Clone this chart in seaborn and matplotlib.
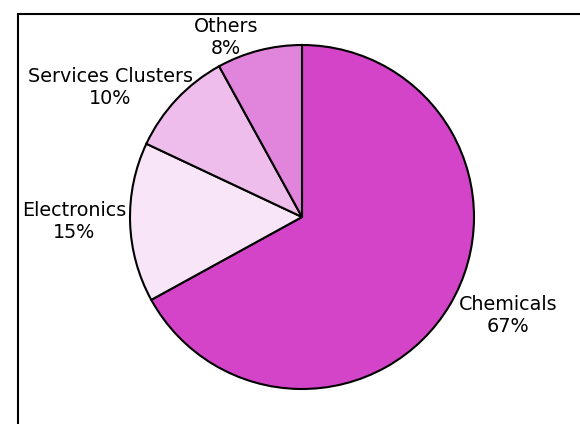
import matplotlib
matplotlib.use("Agg")
import matplotlib.pyplot as plt
import seaborn as sns
from matplotlib.patches import Rectangle

categories = ["Chemicals", "Electronics", "Services Clusters", "Others"]
shares = [67, 15, 10, 8]
colors = ["#D444C8", "#F8E6F8", "#EEBDEC", "#E084DC"]
label_pos = [(1.198, -0.570), (-1.326, -0.029), (-1.116, 0.750), (-0.442, 1.041)]

sns.set_theme(style="white")
plt.rcParams['font.family'] = ['DejaVu Sans']

fig = plt.figure(figsize=(5.8, 4.24), dpi=100)
ax = fig.add_axes([0, 0, 1, 1])
ax.pie(shares, colors=colors, startangle=90, counterclock=False, radius=1.0,
       wedgeprops=dict(edgecolor="black", linewidth=1.5))
for cat, val, (x, y) in zip(categories, shares, label_pos):
    ax.text(x, y, f"{cat}\n{val}%", ha="center", va="center", fontsize=13.8,
            color="black", linespacing=1.2)
ax.set_xlim(-302 / 172, 278 / 172)
ax.set_ylim(-207 / 172, 217 / 172)
ax.set_aspect("auto")
ax.axis("off")

top = 1 - 14 / 424
fig.patches.append(Rectangle((18 / 580, -0.2), 1.2, top + 0.2,
                             transform=fig.transFigure, fill=False,
                             edgecolor="black", linewidth=1.5))
fig.savefig("out.png", dpi=100, facecolor="white")
